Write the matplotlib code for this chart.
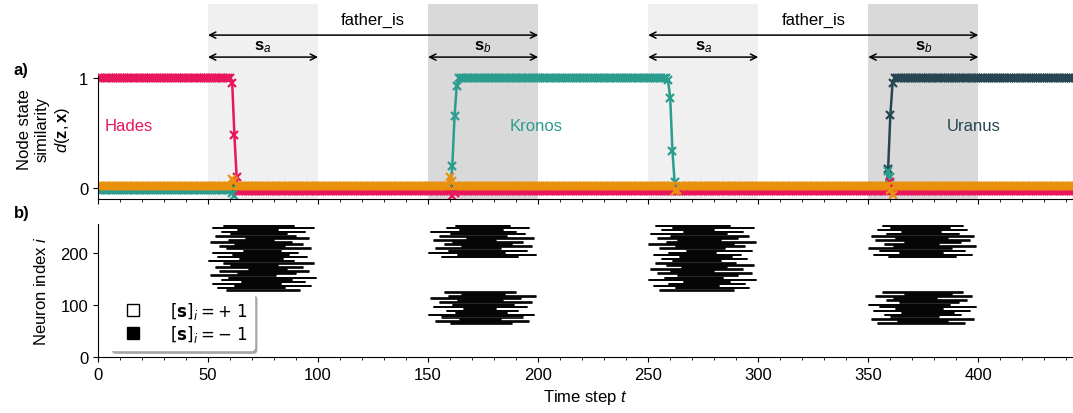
import numpy as np
import matplotlib
matplotlib.use('Agg')
import matplotlib.pyplot as plt
from matplotlib.lines import Line2D
from matplotlib.font_manager import FontProperties

plt.rcParams['font.family'] = ['Liberation Sans', 'DejaVu Sans']
plt.rcParams['mathtext.fontset'] = 'custom'
plt.rcParams['mathtext.rm'] = 'Liberation Sans'
plt.rcParams['mathtext.it'] = 'Liberation Sans:italic'
plt.rcParams['mathtext.bf'] = 'Liberation Sans:bold'
plt.rcParams['font.size'] = 11

# ---- data ----
T_END = 445

# (start, end, value) flat pieces and single-step values for each node
hades_levels = [(0, 60, 1.0), (64, T_END, -0.03)]
hades_points = {61: 0.95, 62: 0.48, 63: 0.10, 161: -0.07, 162: -0.05, 360: 0.05}
kronos_levels = [(0, 160, -0.02), (164, 258, 1.0), (263, T_END, 0.0)]
kronos_points = {61: -0.05, 62: -0.07, 161: 0.20, 162: 0.65, 163: 0.93,
                 259: 0.98, 260: 0.82, 261: 0.34, 262: 0.05, 359: 0.15, 360: 0.10}
uranus_levels = [(0, 358, 0.0), (362, T_END, 1.0)]
uranus_points = {359: 0.17, 360: 0.66, 361: 0.95}
other_levels = [(0, T_END, 0.02)]
other_points = {61: 0.08, 62: 0.06, 160: 0.10, 161: 0.06, 262: -0.03, 263: -0.02,
                360: -0.02, 361: -0.06}

node_names = ['Hades', 'Kronos', 'Uranus']
node_colors = ['#e8175d', '#2a9d8f', '#264653']
other_color = '#e9900c'
node_label_x = [3, 199, 398]

# role spans (time steps)
span_a = [(50, 100), (250, 300)]
span_b = [(150, 200), (350, 400)]

# raster blocks: (block start, lowest row, left offsets, right offsets)
rows_per_group = 4
b1_left = [8, 4, 12, 2, 15, 6, 9, 1, 13, 5, 18, 3, 10, 7, 0, 14,
           4, 11, 2, 16, 8, 5, 12, 1, 9, 17, 3, 10, 6, 13, 2, 7]
b1_right = [42, 35, 47, 33, 44, 38, 49, 31, 40, 46, 36, 43, 32, 48, 39, 34,
            45, 37, 41, 33, 47, 35, 43, 38, 30, 46, 40, 36, 44, 32, 48, 39]
b2_top_left = [6, 13, 0, 9, 3, 15, 7, 11, 2, 17, 5, 10, 1, 14, 8, 12]
b2_top_right = [41, 49, 35, 45, 33, 47, 38, 43, 31, 48, 36, 44, 40, 34, 46, 37]
b2_bot_left = [10, 3, 14, 6, 0, 12, 8, 16, 2, 11, 5, 13, 1, 9, 15, 7]
b2_bot_right = [38, 46, 33, 43, 48, 36, 41, 31, 45, 39, 47, 34, 42, 49, 35, 40]
b3_left = [5, 12, 2, 9, 16, 0, 7, 13, 4, 10, 1, 15, 8, 3, 11, 6,
           14, 2, 9, 17, 5, 12, 0, 8, 13, 4, 10, 1, 16, 6, 11, 3]
b3_right = [39, 46, 32, 44, 37, 49, 34, 41, 47, 30, 43, 36, 48, 40, 33, 45,
            38, 42, 31, 47, 35, 44, 39, 49, 33, 41, 46, 36, 43, 30, 48, 37]
b4_top_left = [9, 2, 14, 5, 0, 11, 7, 16, 3, 12, 1, 8, 15, 4, 10, 6]
b4_top_right = [40, 47, 34, 44, 38, 49, 32, 42, 46, 36, 48, 41, 33, 45, 37, 43]
b4_bot_left = [4, 13, 1, 10, 7, 15, 2, 12, 5, 0, 14, 8, 11, 3, 16, 6]
b4_bot_right = [44, 36, 48, 32, 42, 39, 46, 34, 49, 37, 41, 45, 31, 47, 38, 43]

raster_blocks = [
    (50, 128, b1_left, b1_right),
    (150, 192, b2_top_left, b2_top_right),
    (150, 64, b2_bot_left, b2_bot_right),
    (250, 128, b3_left, b3_right),
    (350, 192, b4_top_left, b4_top_right),
    (350, 64, b4_bot_left, b4_bot_right),
]


def build(levels, points):
    y = np.full(T_END + 1, np.nan)
    for a, b, v in levels:
        y[a:b + 1] = v
    for k, v in points.items():
        y[k] = v
    return y


t = np.arange(T_END + 1)
series = [build(hades_levels, hades_points),
          build(kronos_levels, kronos_points),
          build(uranus_levels, uranus_points)]
other = build(other_levels, other_points)

fig = plt.figure(figsize=(10.73, 4.14), dpi=100)
ax1 = fig.add_axes([0.0913, 0.517, 0.9087, 0.471])
ax2 = fig.add_axes([0.0913, 0.1353, 0.9087, 0.321])

for a, b in span_a:
    ax1.axvspan(a, b, color='#f0f0f0', lw=0, zorder=0)
for a, b in span_b:
    ax1.axvspan(a, b, color='#d9d9d9', lw=0, zorder=0)

line_kw = dict(marker='x', ms=6, mew=1.6, lw=1.8)
for y, c in zip(series[::-1], node_colors[::-1]):
    ax1.plot(t, y, color=c, **line_kw)
ax1.plot(t, other, color=other_color, **line_kw)

for name, c, x in zip(node_names, node_colors, node_label_x):
    ha = 'left' if x < 10 else 'center'
    ax1.text(x, 0.57, name, color=c, ha=ha, va='center', fontsize=12)

# role / relation arrows
arr = dict(arrowstyle='<->', color='black', lw=1.1, shrinkA=0, shrinkB=0)
for a, b in span_a:
    ax1.annotate('', xy=(a, 1.19), xytext=(b, 1.19), arrowprops=arr, annotation_clip=False)
    ax1.text((a + b) / 2, 1.285, r'$\mathbf{s}_a$', ha='center', va='center', fontsize=12)
for a, b in span_b:
    ax1.annotate('', xy=(a, 1.19), xytext=(b, 1.19), arrowprops=arr, annotation_clip=False)
    ax1.text((a + b) / 2, 1.285, r'$\mathbf{s}_b$', ha='center', va='center', fontsize=12)
for (a, _), (_, b) in zip(span_a, span_b):
    ax1.annotate('', xy=(a, 1.39), xytext=(b, 1.39), arrowprops=arr, annotation_clip=False)
    ax1.text((a + b) / 2, 1.535, 'father_is', ha='center', va='center', fontsize=12)

ax1.set_ylim(-0.1, 1.673)
ax1.set_yticks([0, 1])
ax1.spines['left'].set_bounds(-0.1, 1.02)
ax1.set_ylabel('Node state\nsimilarity\n$d(\\mathbf{z}, \\mathbf{x})$', fontsize=12)
ax1.yaxis.set_label_coords(-0.027, 0.36)

# raster of neurons
for start, row0, lefts, rights in raster_blocks:
    for g, (l, r) in enumerate(zip(lefts, rights)):
        rows = row0 + g * rows_per_group + np.arange(rows_per_group)
        ax2.hlines(rows, start + l, start + r, color='black', lw=0.6)

ax2.set_ylim(0, 256)
ax2.set_yticks([0, 100, 200])
ax2.set_ylabel('Neuron index $i$', fontsize=12)
ax2.yaxis.set_label_coords(-0.05, 0.5)
ax2.set_xlabel('Time step $t$', fontsize=12)

handles = [Line2D([], [], marker='s', ls='', mfc='white', mec='black', ms=8, mew=1),
           Line2D([], [], marker='s', ls='', mfc='black', mec='black', ms=8, mew=1)]
leg = ax2.legend(handles, [r'$[\mathbf{s}]_i = +\ 1$', r'$[\mathbf{s}]_i = -\ 1$'],
                 loc='lower left', bbox_to_anchor=(0.012, 0.05), borderaxespad=0,
                 handletextpad=1.2, labelspacing=0.1, frameon=True, fancybox=True,
                 shadow={'color': '0.65', 'alpha': 1},
                 prop=FontProperties(size=12, math_fontfamily='dejavusans'))
leg.get_frame().set_edgecolor('white')
leg.get_frame().set_alpha(1)

for ax in (ax1, ax2):
    ax.set_xlim(0, 443)
    ax.spines['top'].set_visible(False)
    ax.spines['right'].set_visible(False)
    ax.set_xticks(np.arange(0, 443, 50))
    ax.set_xticks(np.arange(0, 443, 10), minor=True)
    ax.tick_params(labelsize=12)
ax1.tick_params(labelbottom=False)

fig.text(0.013, 0.83, 'a)', fontsize=12, fontweight='bold', va='center')
fig.text(0.013, 0.485, 'b)', fontsize=12, fontweight='bold', va='center')

fig.savefig('out.png', dpi=100)
